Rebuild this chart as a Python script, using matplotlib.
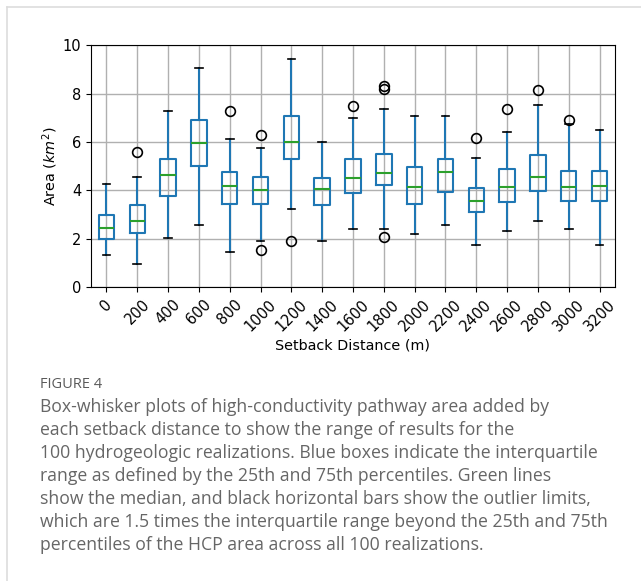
import matplotlib.pyplot as plt
from matplotlib.lines import Line2D

setback_distances = ["0", "200", "400", "600", "800", "1000", "1200", "1400", "1600",
                     "1800", "2000", "2200", "2400", "2600", "2800", "3000", "3200"]
whisker_low = [1.34, 0.94, 2.02, 2.56, 1.46, 1.89, 3.25, 1.92, 2.40,
               2.40, 2.18, 2.56, 1.73, 2.33, 2.73, 2.40, 1.73]
q1 = [1.99, 2.22, 3.77, 4.99, 3.44, 3.44, 5.29, 3.41, 3.90,
      4.24, 3.44, 3.94, 3.09, 3.52, 3.99, 3.56, 3.56]
median = [2.43, 2.73, 4.64, 5.97, 4.19, 4.02, 6.02, 4.05, 4.52,
          4.74, 4.16, 4.75, 3.58, 4.14, 4.56, 4.14, 4.19]
q3 = [2.97, 3.41, 5.29, 6.93, 4.77, 4.57, 7.07, 4.52, 5.29,
      5.52, 4.96, 5.32, 4.09, 4.89, 5.47, 4.82, 4.79]
whisker_high = [4.28, 4.56, 7.28, 9.05, 6.12, 5.76, 9.45, 5.99, 6.98,
                7.35, 7.10, 7.10, 5.36, 6.40, 7.54, 6.73, 6.52]
outliers = [[], [5.57], [], [], [7.27], [6.30, 1.55], [1.92], [], [7.50],
            [8.33, 8.20, 2.07], [], [], [6.15], [7.39], [8.15], [6.93], []]

caption_title = "FIGURE 4"
caption_lines = [
    "Box-whisker plots of high-conductivity pathway area added by",
    "each setback distance to show the range of results for the",
    "100 hydrogeologic realizations. Blue boxes indicate the interquartile",
    "range as defined by the 25th and 75th percentiles. Green lines",
    "show the median, and black horizontal bars show the outlier limits,",
    "which are 1.5 times the interquartile range beyond the 25th and 75th",
    "percentiles of the HCP area across all 100 realizations.",
]

stats = []
for i, label in enumerate(setback_distances):
    stats.append({
        "label": label,
        "whislo": whisker_low[i],
        "q1": q1[i],
        "med": median[i],
        "q3": q3[i],
        "whishi": whisker_high[i],
        "fliers": outliers[i],
    })

fig = plt.figure(figsize=(6.41, 5.81), dpi=100)
ax = fig.add_axes([0.142, 0.506, 0.8174, 0.4157])

ax.bxp(
    stats,
    boxprops=dict(color="#1f77b4", linewidth=1.5),
    whiskerprops=dict(color="#1f77b4", linewidth=1.5),
    capprops=dict(color="black", linewidth=1.2),
    medianprops=dict(color="#2ca02c", linewidth=1.5),
    flierprops=dict(marker="o", markerfacecolor="none", markeredgecolor="black",
                    markersize=7, markeredgewidth=1.2),
)
ax.set_ylim(0, 10)
ax.set_yticks([0, 2, 4, 6, 8, 10])
ax.grid(True, color="#b0b0b0", linewidth=1.0)
ax.set_axisbelow(True)
ax.tick_params(axis="both", labelsize=10.5)
plt.setp(ax.get_xticklabels(), rotation=45)
ax.set_xlabel("Setback Distance (m)", fontsize=10.4, labelpad=3)
ax.set_ylabel("Area ($km^2$)", fontsize=10.4, labelpad=2)

# card border
fig.add_artist(Line2D([7 / 641, 1], [1 - 7 / 581, 1 - 7 / 581], color="#dddddd", linewidth=1.2))
fig.add_artist(Line2D([7 / 641, 7 / 641], [0, 1 - 7 / 581], color="#dddddd", linewidth=1.2))

fig.text(40 / 641, 1 - 385 / 581, caption_title, fontsize=10.5, family="Open Sans",
         color="#5a5a5a", va="center", ha="left")
for k, line in enumerate(caption_lines):
    y = 407 + k * 23
    fig.text(40 / 641, 1 - y / 581, line, fontsize=12.7, family="Open Sans",
             color="#666666", va="center", ha="left")

fig.savefig("out.png", dpi=100)
